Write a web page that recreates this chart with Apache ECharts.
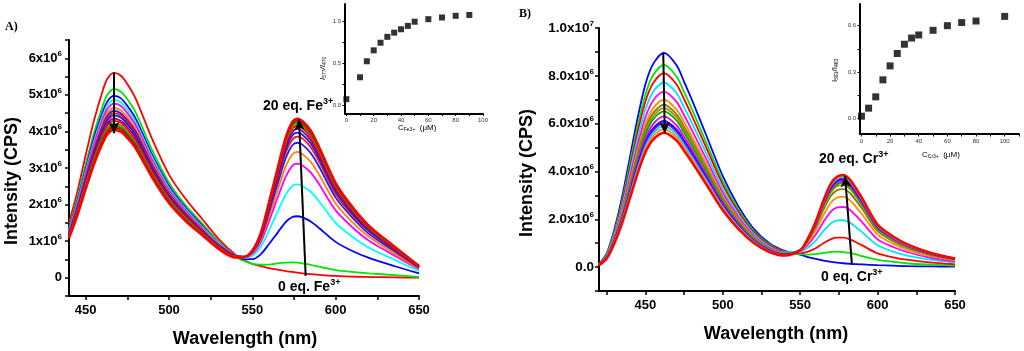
<!DOCTYPE html>
<html><head><meta charset="utf-8">
<script src="https://cdn.jsdelivr.net/npm/echarts@6/dist/echarts.min.js"></script>
<style>html,body{margin:0;padding:0;background:#fff}#c{width:1024px;height:351px}</style>
</head><body><div id="c"></div>
<script>
// ---------- Panel A (Fe3+) : wavelengths (nm) and intensities (x10^6 CPS) ----------
const wlA = [440,445,450,455,460,463,467,471,475,480,490,500,510,520,530,540,545,550,555,560,565,570,574,577,580,585,590,600,610,620,635,650];
const fe0  = [1.50,2.35,3.35,4.30,5.08,5.44,5.60,5.53,5.30,4.90,3.78,2.82,2.15,1.60,1.05,0.62,0.48,0.38,0.32,0.26,0.22,0.18,0.16,0.14,0.12,0.10,0.08,0.05,0.03,0.02,0.01,0.00];
const fe1  = [1.38,2.17,3.09,3.96,4.67,5.00,5.16,5.09,4.88,4.52,3.48,2.60,1.98,1.48,0.97,0.58,0.46,0.38,0.36,0.36,0.39,0.41,0.42,0.41,0.39,0.35,0.30,0.21,0.16,0.12,0.07,0.02];
const fe2  = [1.33,2.09,2.97,3.82,4.50,4.82,4.97,4.91,4.70,4.35,3.35,2.51,1.91,1.42,0.94,0.59,0.51,0.51,0.64,0.92,1.22,1.52,1.66,1.68,1.65,1.54,1.36,0.98,0.73,0.54,0.32,0.12];
const fe3  = [1.30,2.04,2.91,3.73,4.40,4.71,4.86,4.80,4.60,4.25,3.28,2.45,1.87,1.39,0.93,0.60,0.54,0.60,0.84,1.29,1.79,2.27,2.51,2.55,2.51,2.35,2.09,1.50,1.12,0.82,0.50,0.18];
const fe4  = [1.28,2.00,2.85,3.66,4.31,4.61,4.76,4.70,4.50,4.17,3.21,2.40,1.83,1.36,0.91,0.60,0.56,0.65,0.96,1.54,2.17,2.76,3.06,3.12,3.07,2.88,2.56,1.84,1.38,1.01,0.61,0.23];
const fe5  = [1.24,1.95,2.77,3.56,4.21,4.50,4.64,4.58,4.39,4.06,3.13,2.34,1.78,1.33,0.89,0.60,0.57,0.68,1.03,1.67,2.37,3.04,3.37,3.44,3.38,3.17,2.82,2.03,1.52,1.12,0.67,0.25];
const fe6  = [1.22,1.92,2.73,3.50,4.13,4.42,4.56,4.50,4.31,3.99,3.08,2.30,1.75,1.30,0.88,0.60,0.57,0.70,1.08,1.79,2.54,3.26,3.62,3.69,3.64,3.41,3.04,2.19,1.64,1.20,0.73,0.27];
const fe7  = [1.21,1.89,2.69,3.46,4.08,4.36,4.50,4.44,4.26,3.94,3.04,2.27,1.73,1.29,0.87,0.59,0.57,0.72,1.12,1.86,2.65,3.41,3.78,3.86,3.81,3.57,3.18,2.29,1.71,1.26,0.76,0.28];
const fe8  = [1.19,1.86,2.66,3.41,4.02,4.30,4.44,4.38,4.20,3.89,2.99,2.24,1.70,1.27,0.85,0.59,0.58,0.73,1.14,1.90,2.72,3.50,3.89,3.97,3.91,3.67,3.27,2.36,1.76,1.29,0.78,0.29];
const fe9  = [1.17,1.83,2.60,3.34,3.94,4.22,4.35,4.29,4.12,3.81,2.93,2.20,1.67,1.24,0.84,0.58,0.57,0.73,1.16,1.94,2.78,3.58,3.98,4.07,4.01,3.76,3.35,2.42,1.81,1.33,0.80,0.30];
const fe10 = [1.15,1.80,2.57,3.29,3.89,4.16,4.29,4.24,4.06,3.75,2.89,2.17,1.65,1.23,0.83,0.58,0.57,0.74,1.18,1.98,2.84,3.66,4.07,4.16,4.10,3.84,3.42,2.47,1.85,1.36,0.82,0.30];
const fe11 = [1.13,1.77,2.52,3.23,3.82,4.08,4.21,4.16,3.98,3.68,2.84,2.13,1.62,1.20,0.81,0.57,0.57,0.74,1.19,2.01,2.88,3.72,4.14,4.23,4.17,3.91,3.48,2.51,1.88,1.38,0.83,0.31];
const fe12 = [1.11,1.74,2.48,3.19,3.76,4.02,4.15,4.10,3.93,3.63,2.80,2.10,1.59,1.19,0.80,0.57,0.57,0.74,1.20,2.03,2.91,3.76,4.18,4.27,4.22,3.95,3.52,2.54,1.90,1.40,0.84,0.31];
const fe13 = [1.10,1.72,2.45,3.15,3.72,3.98,4.10,4.05,3.88,3.59,2.77,2.07,1.57,1.17,0.79,0.56,0.56,0.74,1.20,2.04,2.94,3.79,4.22,4.31,4.25,3.99,3.55,2.56,1.92,1.41,0.85,0.32];
const fe14 = [1.08,1.70,2.42,3.10,3.66,3.92,4.04,3.99,3.82,3.54,2.73,2.04,1.55,1.16,0.78,0.55,0.56,0.74,1.21,2.06,2.96,3.83,4.26,4.35,4.29,4.03,3.58,2.59,1.94,1.42,0.86,0.32];
const feSpectra = [fe0,fe1,fe2,fe3,fe4,fe5,fe6,fe7,fe8,fe9,fe10,fe11,fe12,fe13,fe14];
const feColors = ['#ff0000','#00e600','#0000ff','#00ffff','#ff00ff','#ff8000','#1a1aff','#ff1010','#2020c8','#8000b0','#ff0000','#808000','#009000','#d00000','#ff0000'];

// inset A
const feConc  = [0,10,15,20,25,30,35,40,45,50,60,70,80,90];
const feRatio = [0.07,0.33,0.52,0.65,0.74,0.81,0.86,0.90,0.94,0.99,1.02,1.04,1.06,1.07];

// ---------- Panel B (Cr3+) ----------
const wlB = [420,425,430,435,440,445,450,455,462,470,475,480,490,500,510,520,530,540,550,555,560,565,570,574,578,582,586,590,600,610,620,635,650];
const cr0  = [0.12,0.58,1.60,2.95,4.60,6.25,7.65,8.50,8.96,8.45,7.75,7.00,5.40,3.80,2.55,1.60,1.00,0.68,0.52,0.42,0.34,0.27,0.22,0.19,0.16,0.14,0.12,0.11,0.08,0.06,0.04,0.03,0.02];
const cr1  = [0.11,0.55,1.51,2.78,4.34,5.91,7.22,8.03,8.46,7.98,7.32,6.61,5.10,3.59,2.41,1.51,0.95,0.65,0.54,0.52,0.54,0.59,0.64,0.65,0.63,0.59,0.53,0.46,0.30,0.22,0.15,0.10,0.06];
const cr2  = [0.11,0.52,1.45,2.67,4.16,5.66,6.93,7.70,8.11,7.65,7.02,6.33,4.89,3.44,2.31,1.45,0.91,0.63,0.58,0.65,0.79,1.00,1.17,1.23,1.23,1.16,1.04,0.91,0.57,0.41,0.30,0.19,0.12];
const cr3  = [0.10,0.50,1.38,2.54,3.96,5.39,6.59,7.33,7.72,7.28,6.68,6.03,4.66,3.27,2.20,1.38,0.86,0.61,0.63,0.82,1.11,1.51,1.83,1.95,1.96,1.86,1.67,1.46,0.91,0.65,0.47,0.30,0.19];
const cr4  = [0.10,0.47,1.31,2.41,3.77,5.12,6.27,6.97,7.34,6.92,6.35,5.73,4.43,3.11,2.09,1.31,0.82,0.59,0.67,0.94,1.35,1.89,2.33,2.50,2.52,2.40,2.15,1.88,1.16,0.84,0.61,0.38,0.24];
const cr5  = [0.09,0.45,1.25,2.30,3.59,4.89,5.98,6.64,7.00,6.60,6.06,5.47,4.22,2.97,2.00,1.25,0.78,0.57,0.69,1.03,1.54,2.18,2.71,2.91,2.95,2.80,2.52,2.20,1.36,0.98,0.71,0.45,0.28];
const cr6  = [0.09,0.44,1.21,2.23,3.48,4.74,5.80,6.44,6.79,6.40,5.87,5.30,4.09,2.88,1.94,1.22,0.76,0.56,0.71,1.10,1.67,2.40,2.99,3.22,3.26,3.10,2.79,2.44,1.50,1.08,0.78,0.49,0.31];
const cr7  = [0.09,0.43,1.19,2.19,3.41,4.64,5.68,6.31,6.65,6.27,5.75,5.19,4.01,2.82,1.90,1.19,0.74,0.56,0.72,1.14,1.74,2.52,3.14,3.39,3.43,3.27,2.94,2.56,1.58,1.14,0.82,0.52,0.32];
const cr8  = [0.09,0.42,1.16,2.14,3.34,4.54,5.56,6.18,6.51,6.14,5.63,5.08,3.93,2.76,1.86,1.17,0.73,0.55,0.72,1.16,1.78,2.58,3.22,3.47,3.52,3.35,3.01,2.63,1.62,1.17,0.85,0.53,0.33];
const cr9  = [0.08,0.41,1.13,2.07,3.23,4.40,5.38,5.98,6.30,5.94,5.45,4.92,3.80,2.67,1.80,1.13,0.71,0.53,0.71,1.17,1.81,2.63,3.30,3.55,3.60,3.43,3.09,2.69,1.66,1.19,0.87,0.54,0.34];
const cr10 = [0.08,0.40,1.09,2.01,3.13,4.26,5.22,5.80,6.11,5.76,5.29,4.77,3.68,2.59,1.74,1.09,0.68,0.52,0.71,1.18,1.83,2.68,3.35,3.62,3.67,3.50,3.14,2.75,1.69,1.22,0.88,0.55,0.34];
const cr11 = [0.08,0.39,1.08,1.98,3.09,4.20,5.14,5.71,6.02,5.68,5.21,4.70,3.63,2.55,1.72,1.08,0.67,0.51,0.71,1.19,1.85,2.71,3.40,3.67,3.72,3.54,3.19,2.78,1.71,1.23,0.89,0.56,0.35];
const cr12 = [0.08,0.38,1.05,1.94,3.03,4.12,5.04,5.60,5.90,5.56,5.10,4.61,3.56,2.50,1.68,1.06,0.66,0.50,0.71,1.19,1.87,2.73,3.43,3.70,3.76,3.58,3.22,2.81,1.73,1.24,0.90,0.57,0.35];
const cr13 = [0.08,0.37,1.03,1.90,2.96,4.03,4.93,5.48,5.77,5.44,4.99,4.51,3.48,2.45,1.64,1.03,0.65,0.49,0.71,1.20,1.89,2.77,3.48,3.76,3.81,3.63,3.27,2.85,1.76,1.26,0.92,0.58,0.36];
const cr14 = [0.08,0.36,1.00,1.85,2.88,3.92,4.80,5.33,5.62,5.30,4.86,4.39,3.39,2.38,1.60,1.01,0.63,0.48,0.70,1.20,1.90,2.79,3.51,3.79,3.85,3.67,3.30,2.88,1.78,1.28,0.93,0.58,0.36];
const crSpectra = [cr0,cr1,cr2,cr3,cr4,cr5,cr6,cr7,cr8,cr9,cr10,cr11,cr12,cr13,cr14];
const crColors = ['#0000ff','#00e600','#ff0000','#00e5ff','#ff00ff','#ff8c00','#808000','#b8860b','#00b000','#e000e0','#0000ff','#7f00ff','#00d8ff','#ff8c00','#ff0000'];

// inset B
const crConc  = [0,5,10,15,20,25,30,35,40,50,60,70,80,100];
const crRatio = [0.015,0.067,0.14,0.25,0.34,0.42,0.48,0.52,0.54,0.57,0.60,0.62,0.63,0.66];

// arrows (data coordinates)
const feArrowDown = [[467,5.62],[467,3.95]];
const feArrowUp   = [[582,0.05],[578,4.33]];
const crArrowDown = [[461.5,8.98],[462.5,5.60]];
const crArrowUp   = [[583.4,0.10],[579,3.80]];

// ticks and labels
const aXTicks = [450,475,500,525,550,575,600,625,650];
const aXLabels = [450,500,550,600,650];
const aYTicks = [-0.5,0,0.5,1,1.5,2,2.5,3,3.5,4,4.5,5,5.5,6,6.5];
const aYLabels = [0,1,2,3,4,5,6];
const bXTicks = [425,450,475,500,525,550,575,600,625,650];
const bXLabels = [450,500,550,600,650];
const bYTicks = [-1,0,1,2,3,4,5,6,7,8,9,10];
const bYLabels = [0,2,4,6,8,10];
const iaXTicks = [0,10,20,30,40,50,60,70,80,90,100];
const iaXLabels = [0,20,40,60,80,100];
const iaYTicks = [0,0.25,0.5,0.75,1.0];
const iaYLabels = [0,0.5,1.0];
const ibXTicks = [0,10,20,30,40,50,60,70,80,90,100,110];
const ibXLabels = [0,20,40,60,80,100];
const ibYTicks = [0,0.15,0.3,0.45,0.6];
const ibYLabels = [0,0.3,0.6];

const F = 'Liberation Sans';
const chart = echarts.init(document.getElementById('c'), null, {renderer:'canvas'});

function supRich(main, sup){
  return {
    n:{fontSize:main, fontWeight:'bold', fontFamily:F, color:'#000'},
    s:{fontSize:sup, fontWeight:'bold', fontFamily:F, color:'#000', padding:[0,0,Math.round(main*0.7),0]}
  };
}
function mainX(idx, min, max, ticks, labels){
  return {type:'value', gridIndex:idx, min, max,
    axisLine:{onZero:false, lineStyle:{color:'#000', width:2}},
    axisTick:{customValues:ticks, length:4, lineStyle:{color:'#000', width:1.5}},
    axisLabel:{customValues:labels, margin:8, fontSize:13, fontWeight:'bold', fontFamily:F, color:'#000'},
    splitLine:{show:false}};
}
function insetAxis(idx, min, max, ticks, labels, fmt){
  return {type:'value', gridIndex:idx, min, max,
    axisLine:{onZero:false, lineStyle:{color:'#000', width:2}},
    axisTick:{customValues:ticks, length:2.5, lineStyle:{color:'#000', width:1}},
    axisLabel:{customValues:labels, margin:4, fontSize:6, fontFamily:F, color:'#333', formatter:fmt},
    splitLine:{show:false}};
}

const series = [];
feSpectra.forEach((vals,i)=>{
  series.push({type:'line', xAxisIndex:0, yAxisIndex:0, data: wlA.map((w,j)=>[w, vals[j]]),
    smooth:0.3, symbol:'none', silent:true,
    lineStyle:{color:feColors[i], width: i===14?2.5:1.8}});
});
crSpectra.forEach((vals,i)=>{
  series.push({type:'line', xAxisIndex:2, yAxisIndex:2, data: wlB.map((w,j)=>[w, vals[j]]),
    smooth:0.3, symbol:'none', silent:true,
    lineStyle:{color:crColors[i], width: i===14?2.5:1.8}});
});
function arrowSeries(xi, arrows){
  return {type:'line', xAxisIndex:xi, yAxisIndex:xi, data:[], symbol:'none',
    markLine:{silent:true, animation:false, symbol:['none','arrow'], symbolSize:[8,11],
      lineStyle:{color:'#000', width:2, type:'solid'}, label:{show:false},
      data: arrows.map(a=>[{coord:a[0]},{coord:a[1]}])}};
}
series.push(arrowSeries(0,[feArrowDown, feArrowUp]));
series.push(arrowSeries(2,[crArrowDown, crArrowUp]));
series.push({type:'scatter', xAxisIndex:1, yAxisIndex:1, data: feConc.map((c,i)=>[c, feRatio[i]]),
  symbol:'rect', symbolSize:6, itemStyle:{color:'#000'}, silent:true});
series.push({type:'scatter', xAxisIndex:3, yAxisIndex:3, data: crConc.map((c,i)=>[c, crRatio[i]]),
  symbol:'rect', symbolSize:7, itemStyle:{color:'#000'}, silent:true});

const eqRich = {
  n:{fontSize:14, fontWeight:'bold', fontFamily:F, color:'#000'},
  s:{fontSize:9, fontWeight:'bold', fontFamily:F, color:'#000', padding:[0,0,9,0]}
};
const insetRich = {
  n:{fontSize:8, fontFamily:F, color:'#222'},
  i:{fontSize:8, fontFamily:F, fontStyle:'italic', color:'#222'},
  b:{fontSize:5, fontFamily:F, color:'#222', padding:[4,0,0,0]}
};
function txt(x,y,text,rich,extra){
  return Object.assign({type:'text', x, y, silent:true,
    style:{text, rich, align:'left', verticalAlign:'middle'}}, extra||{});
}

const option = {
  animation:false,
  backgroundColor:'#fff',
  grid:[
    {left:69, top:40, width:350, height:256},
    {left:345, top:4, width:138, height:109.5},
    {left:599, top:28, width:356, height:263},
    {left:860, top:4, width:159, height:130}
  ],
  xAxis:[
    mainX(0,440,650,aXTicks,aXLabels),
    insetAxis(1,-1,100,iaXTicks,iaXLabels,v=>String(v)),
    mainX(2,420,650,bXTicks,bXLabels),
    insetAxis(3,-1,110,ibXTicks,ibXLabels,v=>String(v))
  ],
  yAxis:[
    {type:'value', gridIndex:0, min:-0.5, max:6.5,
      axisLine:{onZero:false, lineStyle:{color:'#000', width:2}},
      axisTick:{customValues:aYTicks, length:4, lineStyle:{color:'#000', width:1.5}},
      axisLabel:{customValues:aYLabels, margin:7, formatter:v=> v===0?'{n|0}':'{n|'+v+'x10}{s|6}', rich:supRich(13,8)},
      splitLine:{show:false}},
    insetAxis(1,-0.1,1.2,iaYTicks,iaYLabels,v=>v.toFixed(1)),
    {type:'value', gridIndex:2, min:-1, max:10,
      axisLine:{onZero:false, lineStyle:{color:'#000', width:2}},
      axisTick:{customValues:bYTicks, length:4, lineStyle:{color:'#000', width:1.5}},
      axisLabel:{customValues:bYLabels, margin:5, formatter:v=> v===0?'{n|0.0}':(v===10?'{n|1.0x10}{s|7}':'{n|'+v.toFixed(1)+'x10}{s|6}'), rich:supRich(13.5,8)},
      splitLine:{show:false}},
    insetAxis(3,-0.1,0.74,ibYTicks,ibYLabels,v=>v.toFixed(1))
  ],
  series,
  graphic:[
    {type:'text', x:5, y:27, silent:true, style:{text:'A)', font:'bold 12px "Liberation Serif"', fill:'#000', verticalAlign:'middle'}},
    {type:'text', x:519, y:13.5, silent:true, style:{text:'B)', font:'bold 12px "Liberation Serif"', fill:'#000', verticalAlign:'middle'}},
    {type:'text', x:12, y:181, rotation:Math.PI/2, silent:true, style:{text:'Intensity (CPS)', font:'bold 18px "Liberation Sans"', fill:'#000', align:'center', verticalAlign:'middle'}},
    {type:'text', x:245, y:339, silent:true, style:{text:'Wavelength (nm)', font:'bold 18px "Liberation Sans"', fill:'#000', align:'center', verticalAlign:'middle'}},
    {type:'text', x:527, y:173, rotation:Math.PI/2, silent:true, style:{text:'Intensity (CPS)', font:'bold 18px "Liberation Sans"', fill:'#000', align:'center', verticalAlign:'middle'}},
    {type:'text', x:776, y:334, silent:true, style:{text:'Wavelength (nm)', font:'bold 18px "Liberation Sans"', fill:'#000', align:'center', verticalAlign:'middle'}},
    txt(263,106,'{n|20 eq. Fe}{s|3+}',eqRich),
    txt(278,287,'{n|0 eq. Fe}{s|3+}',eqRich),
    txt(819,159,'{n|20 eq. Cr}{s|3+}',eqRich),
    txt(821,277,'{n|0 eq. Cr}{s|3+}',eqRich),
    txt(398,128,'{n|C}{b|Fe3+}{n|  (μM)}',insetRich),
    txt(922,155,'{n|C}{b|Cr3+}{n|  (μM)}',insetRich),
    txt(323,80,'{i|I}{b|577}{i|/I}{b|470}',insetRich,{rotation:Math.PI/2}),
    txt(835,82,'{n|I}{b|581}{n|/I}{b|463}',insetRich,{rotation:Math.PI/2})
  ]
};
chart.setOption(option);
</script></body></html>
